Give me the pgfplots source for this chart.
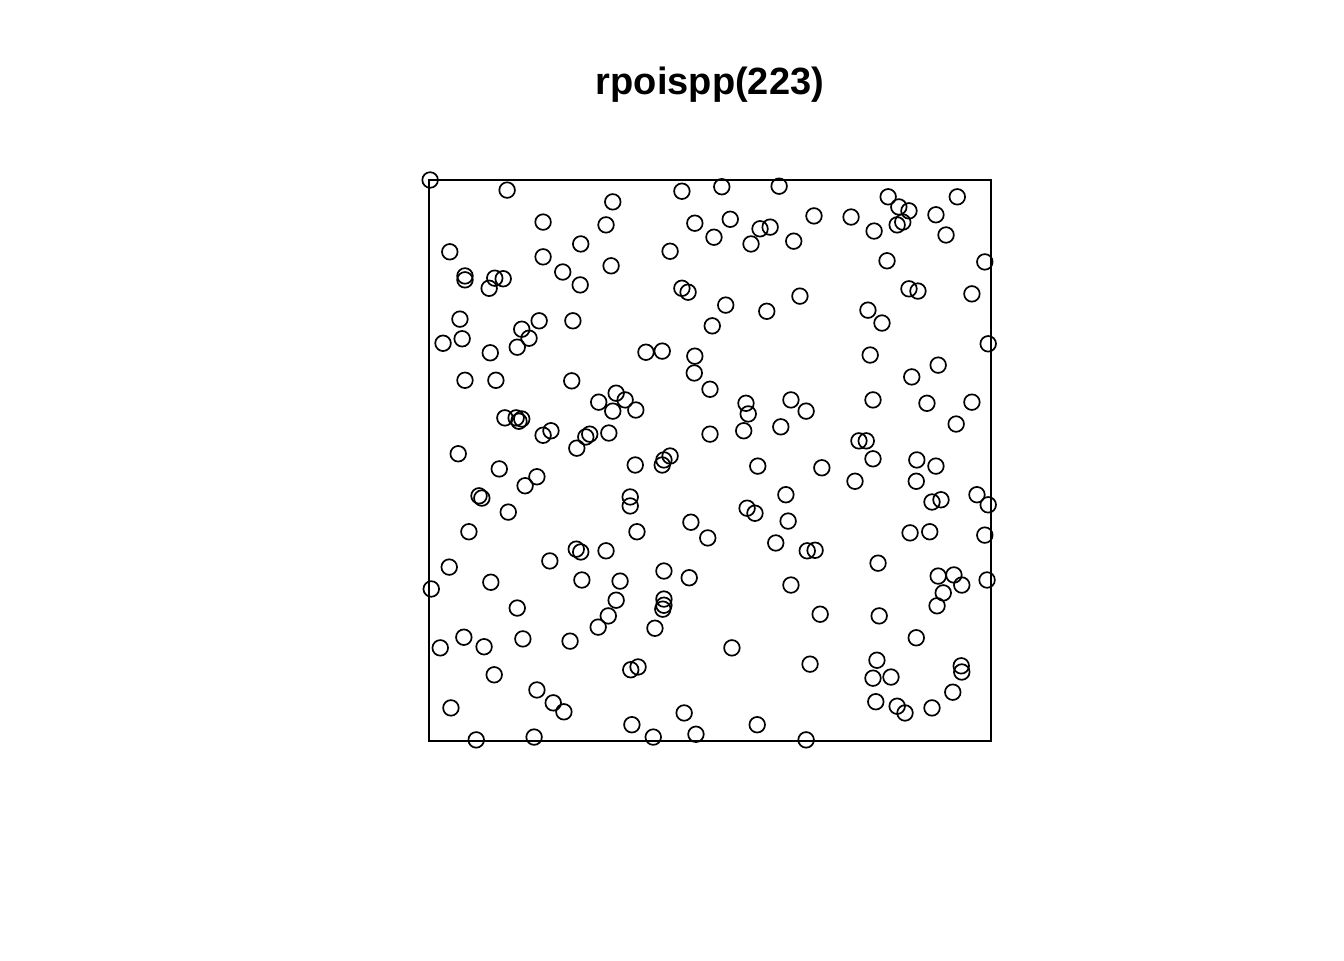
\documentclass[border=0pt]{standalone}
\usepackage{fontspec}
\setmainfont{Liberation Sans}
\usepackage{pgfplots}
\pgfplotsset{compat=1.18}
\begin{document}
\begin{tikzpicture}[x=1pt,y=1pt]
\path[use as bounding box] (0,0) rectangle (672,480);
\begin{axis}[
  at={(214.5pt,109.5pt)}, anchor=south west,
  scale only axis, width=281pt, height=280.5pt,
  xmin=0, xmax=1, ymin=0, ymax=1,
  axis line style={line width=0.8pt, black},
  xtick=\empty, ytick=\empty,
  clip=false,
  title={\fontsize{19}{23}\selectfont\bfseries rpoispp(223)},
  title style={at={(0.5,1)}, anchor=base, yshift=36.5pt},
]
\addplot[only marks, mark=o, mark size=3.9pt, mark options={line width=0.85pt, black}] coordinates {
(0.002,1.000) (0.139,0.982) (0.327,0.961) (0.450,0.980) (0.521,0.988) (0.623,0.989)
(0.817,0.970) (0.940,0.970) (0.836,0.952) (0.854,0.945) (0.203,0.925) (0.315,0.920)
(0.473,0.923) (0.536,0.930) (0.507,0.898) (0.589,0.913) (0.607,0.916) (0.685,0.936)
(0.751,0.934) (0.792,0.909) (0.833,0.920) (0.843,0.925) (0.902,0.938) (0.920,0.902)
(0.037,0.872) (0.270,0.886) (0.429,0.873) (0.573,0.886) (0.649,0.891) (0.203,0.863)
(0.324,0.847) (0.238,0.836) (0.064,0.829) (0.064,0.822) (0.117,0.825) (0.132,0.824)
(0.107,0.807) (0.269,0.813) (0.815,0.856) (0.989,0.854) (0.450,0.807) (0.461,0.800)
(0.660,0.793) (0.528,0.777) (0.601,0.766) (0.854,0.806) (0.870,0.802) (0.966,0.797)
(0.781,0.768) (0.806,0.745) (0.055,0.752) (0.196,0.749) (0.256,0.749) (0.165,0.734)
(0.504,0.740) (0.025,0.709) (0.059,0.717) (0.178,0.718) (0.157,0.702) (0.109,0.692)
(0.386,0.693) (0.415,0.695) (0.473,0.686) (0.785,0.688) (0.995,0.708) (0.906,0.670)
(0.472,0.656) (0.859,0.649) (0.064,0.643) (0.119,0.643) (0.254,0.642) (0.333,0.620)
(0.500,0.627) (0.302,0.604) (0.349,0.608) (0.327,0.588) (0.368,0.590) (0.564,0.602)
(0.644,0.608) (0.790,0.608) (0.886,0.602) (0.966,0.604) (0.568,0.583) (0.671,0.588)
(0.135,0.576) (0.155,0.576) (0.160,0.570) (0.165,0.574) (0.626,0.560) (0.938,0.565)
(0.217,0.553) (0.203,0.545) (0.286,0.547) (0.279,0.542) (0.320,0.549) (0.500,0.547)
(0.560,0.553) (0.263,0.522) (0.765,0.535) (0.778,0.535) (0.052,0.512) (0.418,0.501)
(0.429,0.508) (0.415,0.492) (0.367,0.492) (0.585,0.490) (0.699,0.487) (0.790,0.503)
(0.868,0.501) (0.902,0.490) (0.125,0.485) (0.192,0.471) (0.171,0.455) (0.758,0.463)
(0.867,0.463) (0.089,0.437) (0.094,0.433) (0.358,0.435) (0.358,0.419) (0.635,0.439)
(0.975,0.439) (0.895,0.426) (0.911,0.430) (0.995,0.421) (0.141,0.408) (0.566,0.415)
(0.580,0.406) (0.639,0.392) (0.466,0.390) (0.071,0.373) (0.370,0.373) (0.496,0.362)
(0.856,0.371) (0.891,0.373) (0.989,0.367) (0.617,0.353) (0.262,0.342) (0.270,0.337)
(0.315,0.339) (0.673,0.339) (0.687,0.340) (0.215,0.321) (0.036,0.310) (0.799,0.317)
(0.418,0.303) (0.463,0.291) (0.906,0.294) (0.934,0.296) (0.110,0.283) (0.272,0.287)
(0.340,0.285) (0.948,0.278) (0.993,0.287) (0.004,0.271) (0.644,0.278) (0.915,0.264)
(0.333,0.251) (0.418,0.253) (0.418,0.242) (0.416,0.235) (0.904,0.241) (0.157,0.237)
(0.319,0.223) (0.696,0.226) (0.801,0.223) (0.301,0.203) (0.402,0.201) (0.062,0.185)
(0.167,0.182) (0.251,0.178) (0.867,0.184) (0.020,0.166) (0.098,0.168) (0.539,0.166)
(0.797,0.144) (0.678,0.137) (0.359,0.127) (0.372,0.132) (0.947,0.134) (0.948,0.123)
(0.116,0.118) (0.790,0.112) (0.822,0.114) (0.192,0.091) (0.932,0.087) (0.221,0.068)
(0.795,0.070) (0.240,0.052) (0.039,0.059) (0.833,0.062) (0.847,0.050) (0.895,0.059)
(0.454,0.050) (0.361,0.029) (0.584,0.029) (0.084,0.002) (0.187,0.007) (0.399,0.007)
(0.475,0.012) (0.671,0.002)
};
\end{axis}
\end{tikzpicture}
\end{document}
